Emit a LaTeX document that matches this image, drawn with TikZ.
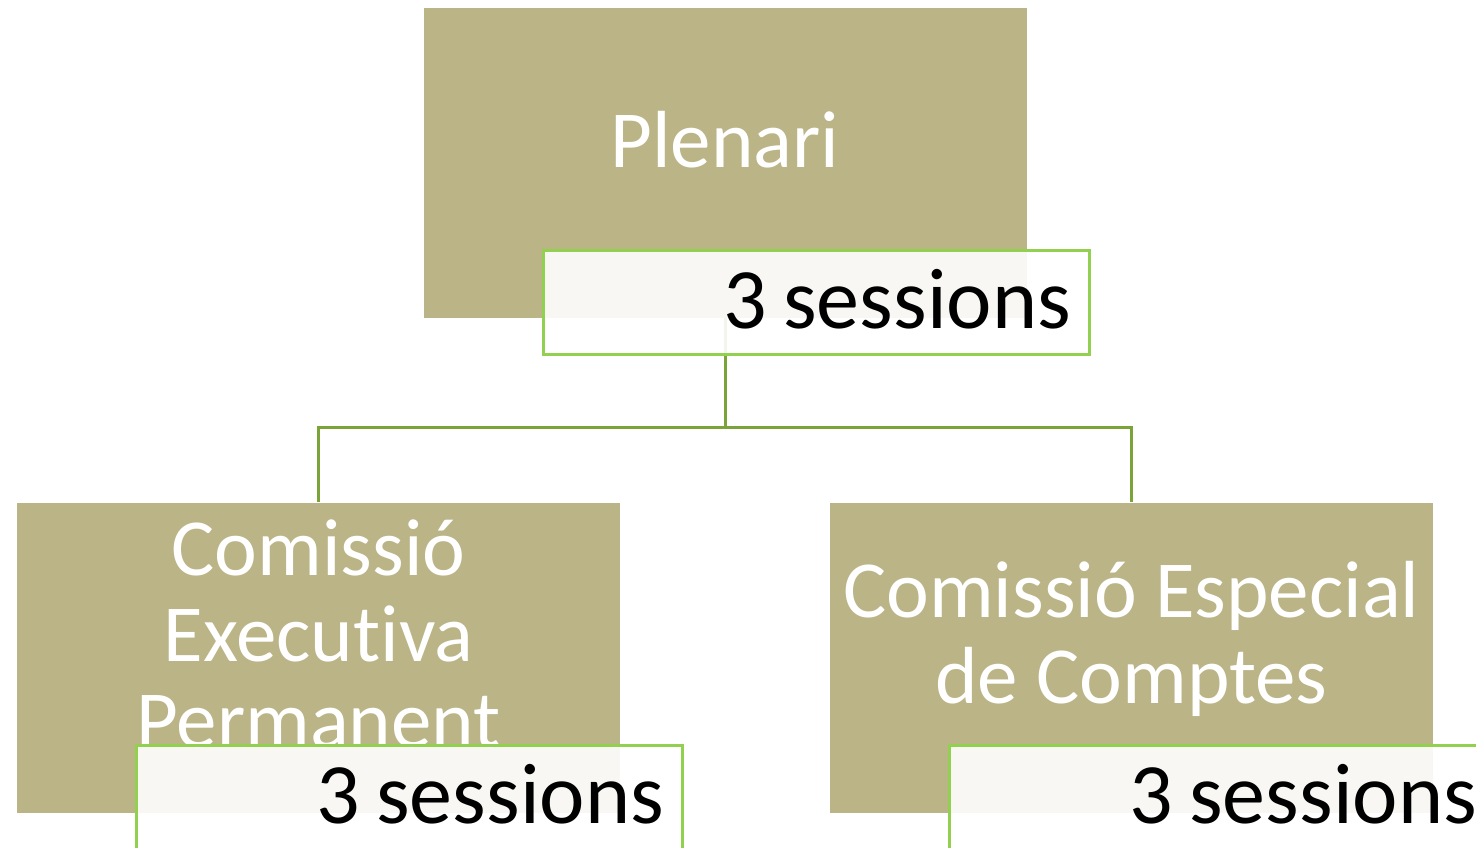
\documentclass[tikz,border=0pt]{standalone}
\usepackage{fontspec}
\setmainfont{Carlito}[Ligatures=NoCommon]
\newfontfamily\labelfont{Carlito}[Ligatures=NoCommon]
\newcommand\sessiontext{3\kern-12pt\ sessions}
\definecolor{boxtan}{RGB}{187,180,135}
\definecolor{lblgreen}{RGB}{146,208,80}
\definecolor{linkgreen}{RGB}{122,163,58}
\tikzset{
  orgbox/.style={draw=none, fill=boxtan, minimum width=603pt, minimum height=310pt, inner sep=0pt},
  boxtext/.style={text=white, font=\fontsize{81}{86}\selectfont, align=center, inner sep=0pt},
  sesslabel/.style={draw=lblgreen, line width=3pt, fill=white, fill opacity=0.9, text opacity=1,
    minimum width=546pt, minimum height=104pt, text width=510pt, align=right, inner xsep=18pt, inner ysep=0pt,
    text height=78pt, text depth=26pt, font={\labelfont\fontsize{86}{90}\selectfont}},
  link/.style={draw=linkgreen, line width=3pt}
}
\begin{document}
\begin{tikzpicture}[x=1pt,y=-1pt]
\useasboundingbox (0,0) rectangle (1476,847);
\fill[white] (0,0) rectangle (1476,847);
% boxes
\node[orgbox] (plenari) at (725,163) {};
\node[orgbox] (cep) at (318.5,657.5) {};
\node[orgbox] (cec) at (1131.5,657.5) {};
% connectors
\coordinate (junction) at (725,427);
\draw[link] (plenari.south) -- (junction);
\draw[link] (junction) -| (cep.north);
\draw[link] (junction) -| (cec.north);
% texts
\node[boxtext, anchor=base] (tplenari) at (725,167) {Plenari};
\node[boxtext, anchor=base] (tcep) at (318.5,747) {Comissió\\Executiva\\Permanent};
\node[boxtext, anchor=base] (tcec) at (1131.5,703) {Comissió Especial\\de Comptes};
% labels
\node[sesslabel] (lplenari) at (816,302) {\sessiontext};
\node[sesslabel] (lcep) at (409,797) {\sessiontext};
\node[sesslabel] (lcec) at (1222,797) {\sessiontext};
\end{tikzpicture}
\end{document}
